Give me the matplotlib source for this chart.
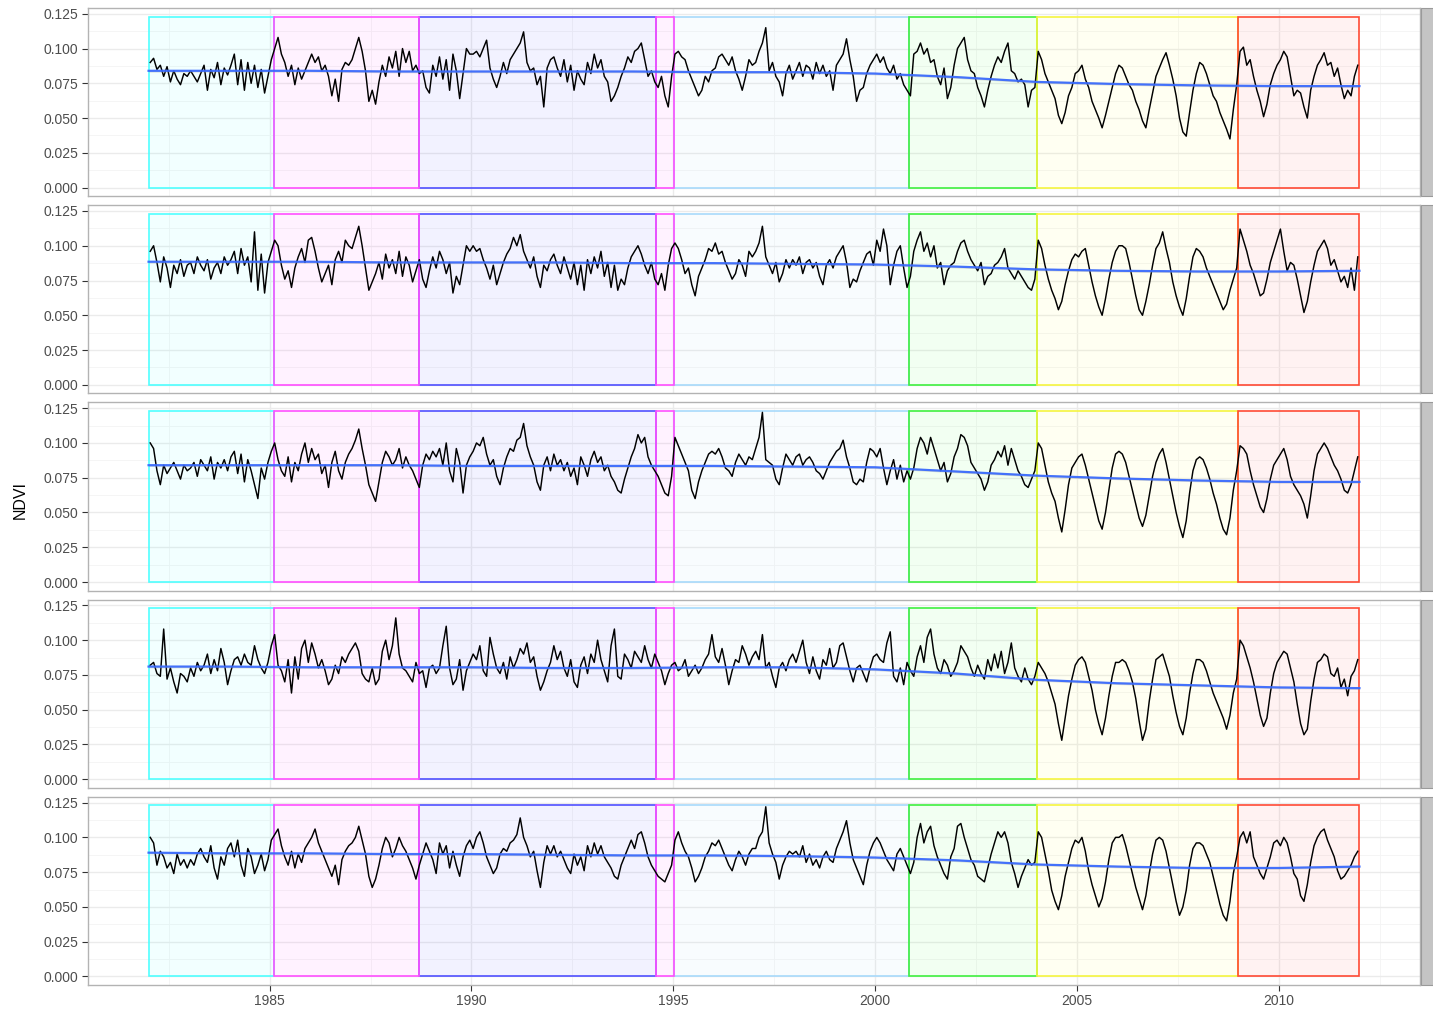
import numpy as np
import matplotlib
matplotlib.use('Agg')
import matplotlib.pyplot as plt
from matplotlib.patches import Rectangle

plt.rcParams['font.family'] = ['Liberation Sans', 'DejaVu Sans']

years = list(range(1982, 2012))

# monthly NDVI x 0.001, one row per year (1982..2011)
ndvi_1 = [
    [90, 93, 85, 88, 80, 87, 76, 84, 78, 74, 82, 80],
    [84, 80, 76, 82, 88, 70, 85, 79, 90, 74, 86, 81],
    [88, 96, 74, 92, 70, 90, 75, 88, 72, 85, 68, 80],
    [92, 100, 108, 96, 90, 80, 88, 74, 86, 78, 84, 90],
    [96, 90, 94, 84, 88, 80, 66, 78, 62, 85, 90, 88],
    [92, 100, 108, 98, 84, 62, 70, 60, 76, 88, 80, 94],
    [86, 98, 80, 100, 90, 98, 84, 88, 82, 84, 72, 68],
    [88, 80, 94, 78, 92, 70, 96, 84, 64, 82, 100, 96],
    [96, 98, 94, 100, 106, 86, 78, 72, 80, 90, 82, 92],
    [96, 100, 104, 112, 90, 84, 86, 74, 80, 58, 86, 92],
    [94, 86, 80, 92, 76, 88, 70, 84, 78, 74, 90, 82],
    [96, 86, 92, 80, 76, 62, 66, 72, 80, 86, 94, 90],
    [98, 100, 104, 92, 80, 84, 76, 72, 80, 66, 58, 80],
    [96, 98, 94, 92, 84, 78, 72, 66, 70, 80, 76, 84],
    [86, 94, 96, 92, 88, 94, 84, 78, 70, 80, 92, 88],
    [90, 98, 104, 115, 84, 90, 80, 76, 66, 82, 88, 78],
    [84, 90, 80, 88, 86, 78, 90, 82, 88, 80, 84, 70],
    [88, 92, 96, 107, 92, 80, 62, 70, 72, 82, 88, 92],
    [96, 90, 94, 86, 82, 88, 78, 82, 74, 70, 66, 96],
    [98, 104, 96, 100, 90, 92, 80, 74, 86, 64, 72, 88],
    [100, 104, 108, 92, 84, 82, 72, 66, 58, 70, 80, 88],
    [94, 90, 98, 104, 84, 82, 76, 78, 74, 58, 70, 72],
    [98, 92, 82, 76, 70, 64, 52, 46, 54, 66, 72, 82],
    [84, 88, 78, 72, 62, 56, 50, 43, 52, 62, 72, 82],
    [88, 86, 80, 74, 70, 62, 56, 48, 43, 56, 68, 80],
    [86, 92, 97, 88, 78, 66, 50, 40, 37, 54, 70, 82],
    [90, 88, 82, 74, 66, 62, 54, 48, 42, 35, 56, 74],
    [98, 101, 88, 92, 80, 70, 62, 51, 60, 74, 82, 88],
    [92, 98, 94, 80, 66, 70, 68, 58, 50, 70, 80, 88],
    [92, 97, 88, 90, 80, 86, 74, 64, 70, 66, 80, 88],
]

ndvi_2 = [
    [96, 100, 88, 74, 92, 84, 70, 86, 80, 90, 78, 86],
    [88, 80, 92, 86, 82, 90, 76, 84, 88, 80, 92, 86],
    [90, 96, 80, 98, 86, 92, 74, 110, 68, 94, 66, 88],
    [96, 104, 100, 86, 76, 82, 70, 84, 92, 98, 88, 104],
    [106, 96, 84, 74, 80, 86, 72, 90, 96, 88, 104, 100],
    [98, 106, 114, 100, 84, 68, 74, 80, 88, 76, 94, 84],
    [90, 80, 96, 78, 92, 86, 74, 82, 90, 76, 70, 82],
    [92, 84, 96, 90, 80, 88, 66, 78, 72, 86, 100, 96],
    [100, 96, 98, 90, 84, 76, 86, 72, 80, 88, 94, 98],
    [106, 100, 108, 96, 90, 84, 92, 78, 70, 86, 82, 90],
    [94, 86, 80, 92, 84, 76, 88, 72, 86, 68, 90, 80],
    [92, 84, 96, 78, 88, 70, 86, 68, 76, 72, 84, 92],
    [96, 100, 94, 86, 80, 88, 76, 72, 80, 68, 86, 98],
    [102, 98, 90, 80, 84, 72, 64, 78, 84, 90, 98, 96],
    [102, 94, 96, 88, 82, 76, 80, 90, 86, 78, 96, 92],
    [96, 102, 114, 92, 86, 80, 88, 74, 80, 90, 84, 90],
    [86, 92, 80, 88, 90, 84, 88, 78, 72, 86, 90, 84],
    [92, 96, 100, 88, 70, 76, 74, 82, 88, 94, 96, 86],
    [104, 96, 112, 100, 72, 86, 96, 100, 84, 70, 78, 96],
    [104, 110, 96, 102, 92, 100, 84, 88, 72, 82, 86, 88],
    [96, 102, 104, 96, 90, 86, 82, 88, 72, 78, 80, 86],
    [88, 92, 98, 84, 80, 76, 82, 78, 74, 70, 68, 76],
    [104, 98, 86, 76, 68, 62, 54, 60, 72, 82, 90, 94],
    [92, 96, 98, 86, 74, 64, 56, 50, 62, 76, 88, 96],
    [100, 100, 98, 88, 76, 64, 54, 50, 60, 72, 86, 98],
    [102, 110, 98, 88, 74, 64, 56, 50, 62, 78, 92, 98],
    [96, 92, 84, 78, 72, 66, 60, 54, 58, 68, 76, 84],
    [112, 104, 96, 86, 80, 72, 64, 66, 76, 88, 96, 104],
    [112, 96, 82, 88, 86, 76, 64, 52, 60, 74, 86, 96],
    [100, 104, 98, 86, 90, 82, 74, 78, 70, 84, 68, 92],
]

ndvi_3 = [
    [100, 96, 80, 70, 84, 78, 82, 86, 80, 74, 84, 80],
    [82, 86, 76, 88, 84, 80, 90, 74, 86, 82, 88, 80],
    [90, 94, 78, 92, 72, 88, 80, 70, 60, 82, 74, 86],
    [94, 100, 88, 80, 76, 90, 72, 86, 80, 92, 100, 86],
    [96, 88, 92, 78, 84, 68, 86, 94, 80, 74, 86, 92],
    [96, 102, 110, 96, 84, 70, 64, 58, 72, 86, 94, 90],
    [84, 88, 96, 82, 90, 84, 80, 74, 68, 84, 92, 88],
    [94, 90, 96, 84, 100, 80, 72, 96, 86, 64, 84, 90],
    [94, 100, 98, 104, 92, 84, 88, 76, 70, 82, 90, 96],
    [94, 102, 104, 114, 98, 90, 84, 72, 66, 84, 90, 80],
    [92, 84, 88, 80, 86, 76, 82, 70, 90, 84, 76, 88],
    [94, 86, 90, 80, 84, 76, 72, 66, 64, 74, 82, 90],
    [96, 106, 100, 104, 90, 84, 80, 76, 70, 64, 62, 76],
    [104, 98, 92, 86, 80, 66, 60, 72, 80, 86, 92, 94],
    [92, 96, 90, 82, 80, 76, 86, 92, 88, 84, 90, 88],
    [96, 104, 122, 88, 86, 84, 74, 70, 82, 92, 88, 84],
    [90, 92, 84, 88, 90, 86, 80, 78, 74, 80, 86, 90],
    [94, 96, 102, 90, 82, 72, 70, 74, 72, 86, 96, 94],
    [90, 96, 82, 70, 80, 88, 74, 84, 72, 80, 74, 82],
    [96, 104, 100, 92, 104, 96, 88, 80, 86, 72, 78, 90],
    [96, 106, 104, 98, 86, 82, 78, 74, 66, 72, 84, 88],
    [94, 90, 98, 84, 96, 88, 80, 76, 70, 68, 74, 80],
    [100, 96, 84, 72, 64, 58, 46, 36, 52, 70, 82, 86],
    [90, 92, 84, 74, 64, 54, 44, 38, 50, 66, 82, 92],
    [94, 92, 86, 76, 66, 56, 46, 40, 48, 62, 76, 86],
    [92, 96, 86, 74, 62, 50, 40, 32, 44, 64, 80, 88],
    [90, 88, 82, 74, 64, 56, 46, 38, 34, 46, 66, 80],
    [98, 96, 92, 80, 70, 62, 54, 50, 60, 74, 84, 88],
    [92, 96, 88, 76, 70, 66, 62, 56, 46, 62, 80, 92],
    [96, 100, 96, 90, 84, 80, 74, 66, 64, 70, 80, 90],
]

ndvi_4 = [
    [82, 84, 76, 74, 108, 72, 80, 70, 62, 76, 74, 70],
    [80, 74, 84, 78, 82, 90, 76, 86, 78, 94, 84, 68],
    [78, 86, 88, 82, 90, 84, 82, 96, 86, 80, 76, 84],
    [96, 104, 82, 78, 70, 86, 62, 88, 72, 94, 100, 84],
    [98, 90, 80, 86, 78, 68, 72, 82, 76, 88, 84, 90],
    [94, 98, 92, 76, 72, 70, 80, 68, 72, 92, 100, 86],
    [96, 116, 90, 80, 78, 74, 70, 84, 76, 78, 66, 80],
    [82, 76, 80, 96, 110, 80, 68, 72, 86, 64, 78, 84],
    [90, 86, 96, 78, 74, 102, 90, 80, 76, 84, 72, 88],
    [80, 86, 94, 90, 98, 84, 88, 74, 64, 70, 78, 84],
    [96, 86, 92, 80, 74, 86, 70, 66, 82, 88, 76, 90],
    [84, 100, 86, 78, 70, 96, 108, 74, 72, 90, 86, 80],
    [92, 88, 84, 96, 86, 80, 90, 84, 78, 68, 76, 82],
    [84, 78, 80, 86, 74, 78, 82, 76, 80, 86, 90, 104],
    [88, 84, 94, 82, 68, 78, 86, 84, 96, 90, 82, 88],
    [92, 86, 104, 80, 84, 74, 66, 80, 84, 78, 86, 90],
    [84, 92, 100, 84, 76, 88, 78, 72, 86, 82, 94, 80],
    [84, 96, 98, 88, 78, 70, 80, 82, 76, 70, 80, 88],
    [90, 86, 84, 98, 106, 74, 70, 80, 68, 84, 78, 74],
    [88, 96, 84, 102, 108, 90, 80, 76, 86, 82, 74, 78],
    [84, 96, 92, 88, 80, 74, 82, 76, 72, 86, 78, 90],
    [80, 92, 76, 84, 98, 80, 74, 70, 80, 72, 68, 74],
    [84, 80, 76, 70, 62, 54, 40, 28, 44, 60, 72, 82],
    [86, 88, 84, 74, 64, 50, 40, 32, 44, 60, 74, 84],
    [84, 86, 84, 78, 70, 58, 42, 28, 36, 56, 72, 86],
    [88, 90, 82, 74, 60, 48, 38, 32, 44, 62, 76, 86],
    [86, 84, 78, 70, 62, 56, 50, 44, 36, 46, 62, 72],
    [100, 96, 88, 80, 70, 58, 46, 38, 44, 62, 76, 84],
    [88, 92, 90, 80, 70, 54, 40, 32, 36, 56, 72, 84],
    [86, 90, 88, 76, 74, 80, 66, 72, 60, 74, 78, 86],
]

ndvi_5 = [
    [100, 96, 80, 90, 86, 78, 82, 74, 88, 80, 84, 78],
    [84, 80, 88, 92, 86, 82, 94, 78, 70, 86, 80, 92],
    [96, 86, 98, 80, 72, 92, 86, 74, 80, 88, 76, 84],
    [98, 102, 106, 94, 86, 80, 90, 78, 88, 82, 92, 96],
    [100, 106, 96, 90, 84, 78, 72, 80, 66, 84, 90, 94],
    [96, 100, 108, 98, 88, 72, 64, 70, 80, 92, 100, 96],
    [86, 92, 100, 94, 90, 84, 78, 70, 80, 88, 96, 90],
    [84, 74, 96, 88, 94, 78, 90, 80, 72, 86, 94, 98],
    [92, 100, 104, 96, 86, 80, 74, 78, 88, 92, 90, 96],
    [98, 102, 114, 100, 94, 86, 90, 76, 64, 82, 94, 88],
    [94, 86, 90, 84, 78, 74, 88, 80, 86, 76, 94, 86],
    [96, 88, 94, 86, 82, 78, 72, 70, 80, 86, 92, 98],
    [92, 102, 104, 96, 86, 80, 76, 72, 70, 68, 74, 80],
    [98, 104, 96, 90, 86, 78, 68, 72, 78, 86, 90, 96],
    [94, 98, 92, 86, 80, 76, 84, 90, 86, 80, 88, 92],
    [92, 100, 104, 122, 96, 88, 82, 70, 80, 86, 90, 88],
    [90, 86, 94, 82, 88, 80, 84, 78, 86, 90, 84, 82],
    [92, 98, 104, 112, 96, 84, 78, 72, 66, 80, 90, 96],
    [100, 96, 90, 84, 80, 76, 88, 92, 86, 80, 74, 82],
    [100, 110, 96, 104, 108, 94, 86, 80, 74, 70, 86, 92],
    [108, 110, 100, 92, 84, 80, 72, 70, 68, 78, 88, 96],
    [104, 100, 104, 96, 82, 74, 64, 72, 78, 84, 80, 82],
    [104, 100, 88, 76, 62, 54, 48, 58, 72, 82, 92, 98],
    [96, 100, 90, 76, 66, 58, 50, 56, 68, 84, 96, 100],
    [100, 102, 94, 84, 74, 64, 56, 48, 58, 74, 88, 98],
    [100, 98, 90, 78, 66, 54, 44, 50, 62, 80, 92, 96],
    [96, 94, 88, 82, 72, 62, 52, 44, 40, 54, 74, 86],
    [100, 104, 96, 104, 86, 80, 74, 70, 78, 86, 96, 98],
    [94, 100, 96, 86, 74, 70, 58, 54, 66, 82, 94, 100],
    [104, 106, 98, 92, 86, 76, 70, 72, 76, 80, 86, 90],
]

# smoothed trend (x 0.001) read every two years
trend_years = list(range(1982, 2013, 2))
trend_1 = [84, 84, 84, 83.5, 83.5, 83.5, 83.5, 83, 83, 82, 79.5, 76, 74.5, 73.5, 73, 73]
trend_2 = [88.5, 88.5, 88.5, 88, 88, 88, 87.5, 87.5, 87, 86.5, 85, 83, 82, 81.5, 81.5, 82]
trend_3 = [84, 84, 84, 84, 83.5, 83.5, 83.5, 83.5, 83, 82.5, 79.5, 76.5, 74.5, 73, 72, 72]
trend_4 = [81, 81, 80.5, 80.5, 80.5, 80, 80, 80.5, 80.5, 79, 76, 71.5, 69, 67.5, 66, 65.5]
trend_5 = [89, 88.5, 88.5, 88, 88, 87.5, 87, 87, 86.5, 85.5, 83.5, 80.5, 79, 78, 78, 79]

# satellite periods
period_start = [1982.0, 1985.1, 1988.7, 1994.58, 1995.02, 2000.83, 2004.0, 2009.0]
period_end = [1985.1, 1988.7, 1994.58, 1995.02, 2000.83, 2004.0, 2009.0, 2012.0]
period_fill = ['#00FFFF', '#FF00FF', '#0000FF', '#FF00FF',
               '#87CEFA', '#00FF00', '#FFFF00', '#FF0000']
period_edge = ['#50FFFF', '#FF50FF', '#5050FF', '#FF50FF',
               '#A8DAFB', '#40F040', '#F5F540', '#FF4A35']
period_layer = [2.0, 2.6, 2.0, 2.6, 2.0, 2.1, 2.2, 2.3]
rect_top = 0.123

panels = [(ndvi_1, trend_1), (ndvi_2, trend_2), (ndvi_3, trend_3),
          (ndvi_4, trend_4), (ndvi_5, trend_5)]

t = np.array([y + (m + 0.5) / 12 for y in years for m in range(12)])

fig, axes = plt.subplots(5, 1, figsize=(14.33, 10.11), dpi=100, sharex=True)
fig.subplots_adjust(left=88/1433, right=1420/1433, top=1-8/1011,
                    bottom=26/1011, hspace=0.048)

for ax, (vals, trend) in zip(axes, panels):
    v = np.array(vals).ravel() / 1000
    tr = np.array(trend) / 1000

    for s, e, fc, ec, z in zip(period_start, period_end, period_fill,
                               period_edge, period_layer):
        ax.add_patch(Rectangle((s, 0), e - s, rect_top, facecolor=fc,
                               alpha=0.05, edgecolor='none', zorder=1))
        ax.add_patch(Rectangle((s, 0), e - s, rect_top, facecolor='none',
                               edgecolor=ec, lw=1.2, zorder=z))

    ax.plot(t, v, color='black', lw=1.05, zorder=3)
    ax.fill_between(trend_years, tr - 0.0009, tr + 0.0009,
                    color='#999999', alpha=0.35, lw=0, zorder=3.5)
    ax.plot(trend_years, tr, color='#3366FF', lw=1.6, alpha=0.9, zorder=4)

    ax.set_xlim(1980.5, 2013.5)
    ax.set_ylim(-0.00615, 0.12915)
    ax.set_yticks([0, 0.025, 0.05, 0.075, 0.1, 0.125])
    ax.set_yticklabels(['0.000', '0.025', '0.050', '0.075', '0.100', '0.125'])
    ax.set_yticks(np.arange(0.0125, 0.13, 0.025), minor=True)
    ax.set_xticks(range(1985, 2011, 5))
    ax.set_xticks(np.arange(1982.5, 2013, 5), minor=True)
    ax.grid(which='major', color='#EBEBEB', lw=1.0, zorder=0)
    ax.grid(which='minor', color='#F4F4F4', lw=0.6, zorder=0)
    ax.set_axisbelow(True)
    for sp in ax.spines.values():
        sp.set_color('#B3B3B3')
        sp.set_linewidth(1.0)
    ax.tick_params(which='major', axis='y', length=4.5, color='#333333',
                   labelsize=10, labelcolor='#4D4D4D', pad=2.5)
    ax.tick_params(which='minor', length=0)
    ax.tick_params(which='major', axis='x', length=4.5, color='#333333',
                   labelsize=10, labelcolor='#4D4D4D', pad=2)

    # facet strip, cut off at the right edge
    pos = ax.get_position()
    fig.patches.append(Rectangle((1421/1433, pos.y0), 0.03, pos.height,
                                 transform=fig.transFigure, facecolor='#C4C4C4',
                                 edgecolor='#9A9A9A', lw=0.8, zorder=0))

for ax in axes[:-1]:
    ax.tick_params(axis='x', which='both', length=0, labelbottom=False)

fig.text(20/1433, 0.505, 'NDVI', rotation=90, ha='center', va='center',
         fontsize=11.5, color='black')

fig.savefig('out.png', dpi=100)
